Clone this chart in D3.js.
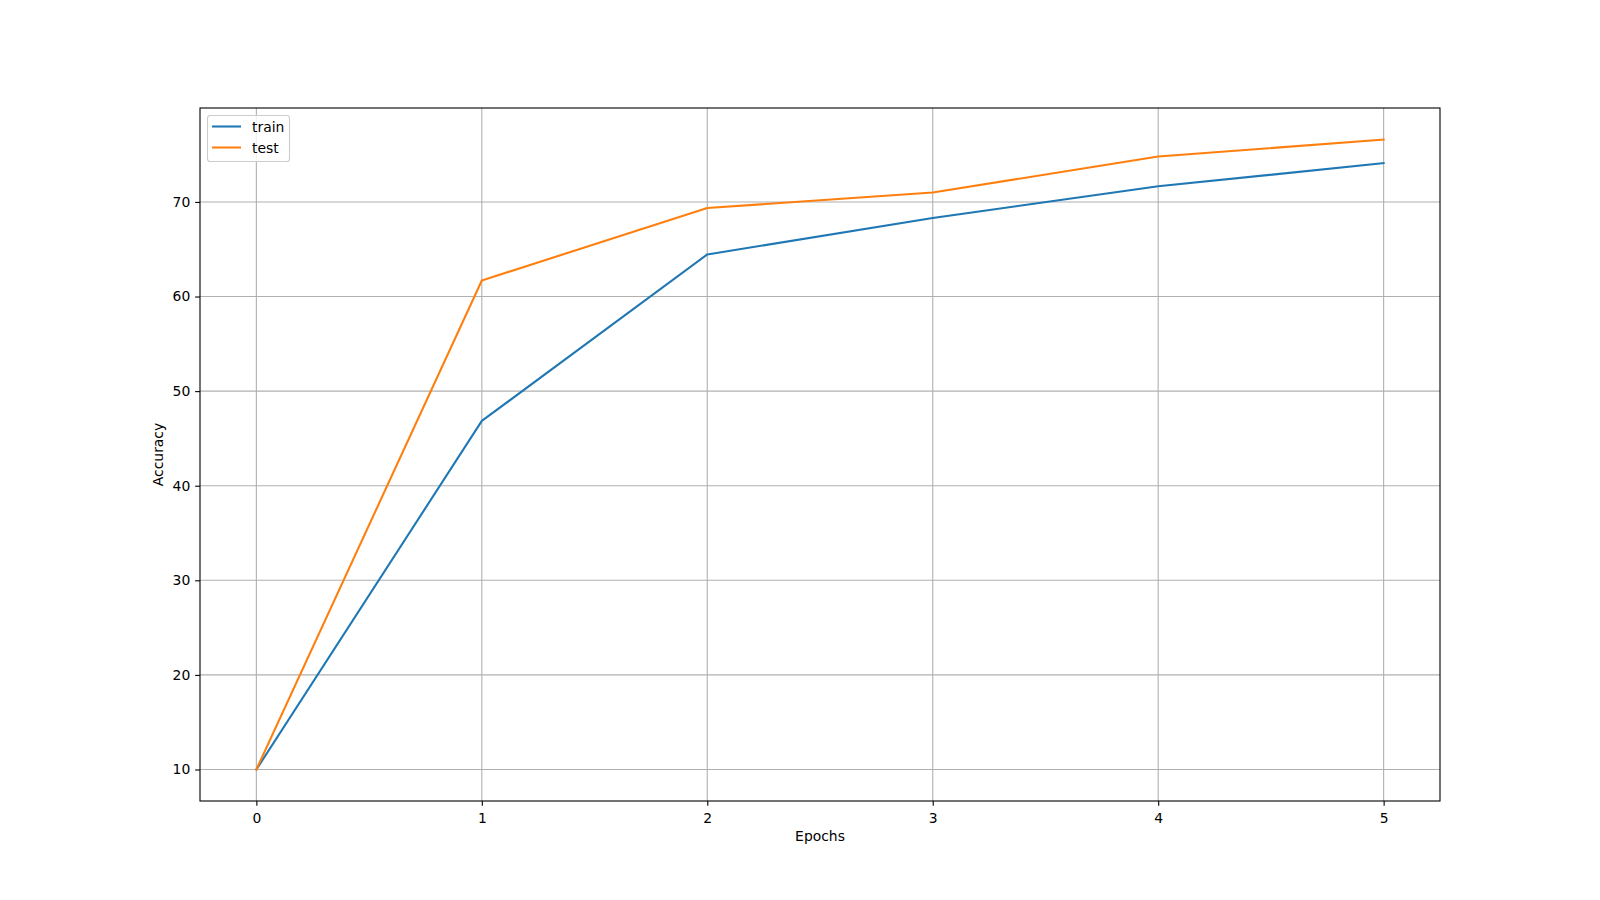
<!DOCTYPE html>
<html>
<head>
  <meta charset="utf-8">
  <title>Accuracy</title>
  <script src="https://d3js.org/d3.v7.min.js"></script>
  <style>
    body { margin: 0; background: #fff; }
    svg text { font-family: "DejaVu Sans", sans-serif; font-size: 13.9px; fill: #000; }
  </style>
</head>
<body>
<script>
"use strict"
var epochs = [0, 1, 2, 3, 4, 5];
var trainAcc = [10, 46.85, 64.45, 68.3, 71.65, 74.1];
var testAcc = [10, 61.7, 69.35, 71.0, 74.8, 76.6];
var xTicks = [0, 1, 2, 3, 4, 5];
var yTicks = [10, 20, 30, 40, 50, 60, 70];

var width = 1600, height = 900;
var plotL = 200, plotR = 1440, plotT = 108, plotB = 801;

var svg = d3.select("body").append("svg")
  .attr("width", width)
  .attr("height", height);

// matplotlib style 5% margins
var ymin = d3.min(trainAcc.concat(testAcc)), ymax = d3.max(trainAcc.concat(testAcc));
var ypad = (ymax - ymin) * 0.05;
var x = d3.scaleLinear().domain([-0.25, 5.25]).range([plotL, plotR]);
var y = d3.scaleLinear().domain([ymin - ypad, ymax + ypad]).range([plotB, plotT]);

// grid
var grid = svg.append("g");
grid.selectAll(".gx").data(xTicks).enter().append("line")
  .attr("x1", d => x(d)).attr("x2", d => x(d))
  .attr("y1", plotT).attr("y2", plotB)
  .attr("stroke", "#b0b0b0").attr("stroke-width", 1.1);
grid.selectAll(".gy").data(yTicks).enter().append("line")
  .attr("x1", plotL).attr("x2", plotR)
  .attr("y1", d => y(d)).attr("y2", d => y(d))
  .attr("stroke", "#b0b0b0").attr("stroke-width", 1.1);

// lines
var line = d3.line().x((d, i) => x(epochs[i])).y(d => y(d));
svg.append("path").datum(trainAcc).attr("d", line)
  .attr("fill", "none").attr("stroke", "#1f77b4").attr("stroke-width", 2.08)
  .attr("stroke-linejoin", "round").attr("stroke-linecap", "square");
svg.append("path").datum(testAcc).attr("d", line)
  .attr("fill", "none").attr("stroke", "#ff7f0e").attr("stroke-width", 2.08)
  .attr("stroke-linejoin", "round").attr("stroke-linecap", "square");

// axes
var xAxis = d3.axisBottom(x).tickValues(xTicks).tickSize(4.86).tickPadding(4.86).tickFormat(d3.format("d"));
var yAxis = d3.axisLeft(y).tickValues(yTicks).tickSize(4.86).tickPadding(4.86).tickFormat(d3.format("d"));
var gx = svg.append("g").attr("transform", "translate(0," + plotB + ")").call(xAxis);
var gy = svg.append("g").attr("transform", "translate(" + plotL + ",0)").call(yAxis);
[gx, gy].forEach(function(g) {
  g.select(".domain").remove();
  g.selectAll(".tick line").attr("stroke", "#000").attr("stroke-width", 1.1);
  g.selectAll(".tick text").attr("font-family", "DejaVu Sans").attr("font-size", "13.9px").attr("fill", "#000");
});
gx.selectAll(".tick text").attr("dy", "0.85em");

// frame
svg.append("rect").attr("x", plotL).attr("y", plotT)
  .attr("width", plotR - plotL).attr("height", plotB - plotT)
  .attr("fill", "none").attr("stroke", "#000").attr("stroke-width", 1.1);

// labels
svg.append("text").attr("x", (plotL + plotR) / 2).attr("y", 841)
  .attr("text-anchor", "middle").text("Epochs");
svg.append("text")
  .attr("transform", "translate(163," + (plotT + plotB) / 2 + ") rotate(-90)")
  .attr("text-anchor", "middle").text("Accuracy");

// legend
var legend = svg.append("g");
legend.append("rect").attr("x", 207.5).attr("y", 115.5).attr("width", 82).attr("height", 46)
  .attr("rx", 2.8).attr("fill", "#fff").attr("fill-opacity", 0.8)
  .attr("stroke", "#cccccc").attr("stroke-width", 1.1);
var series = [{name: "train", color: "#1f77b4"}, {name: "test", color: "#ff7f0e"}];
series.forEach(function(s, i) {
  var ly = 126.5 + i * 21;
  legend.append("line").attr("x1", 212).attr("x2", 241).attr("y1", ly).attr("y2", ly)
    .attr("stroke", s.color).attr("stroke-width", 2.08);
  legend.append("text").attr("x", 252).attr("y", ly + 5).text(s.name);
});
</script>
</body>
</html>
